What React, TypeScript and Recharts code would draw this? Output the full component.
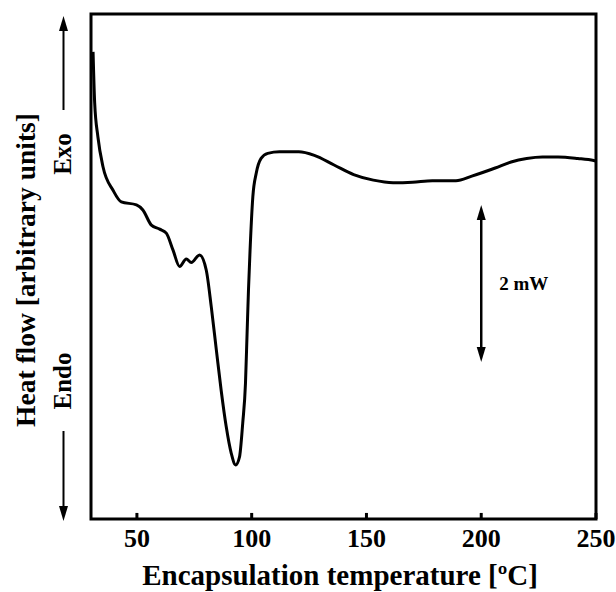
import React from 'react';
import { LineChart, Line, XAxis, YAxis, ReferenceArea, ReferenceLine } from 'recharts';

// temperature (°C) and heat flow (arbitrary units, 0..100 over the plot height)
const temps = [
  30.9, 31.6, 33.0, 35.2, 39.6, 43.2, 49.8, 52.6, 56.3, 59.9, 62.8, 65.7, 68.6, 71.5, 73.7, 77.3,
  80.2, 82.4, 84.6, 86.7, 88.9, 91.1, 93.0, 94.7, 96.1, 97.3, 98.0, 98.6, 99.3, 100.5, 102.0, 104.1,
  107.0, 112.1, 120.5, 127.3, 135.9, 144.4, 153.0, 161.6, 170.1, 178.7, 189.0, 195.9, 206.1, 213.0,
  219.8, 226.7, 233.5, 242.1, 249.0, 250,
];
const heatFlow = [
  92.5, 82.4, 75.7, 69.8, 65.1, 62.8, 62.2, 61.2, 58.2, 57.4, 56.6, 53.3, 50.0, 51.5, 50.8, 52.3,
  49.3, 42.0, 33.5, 25.5, 18.3, 13.0, 10.7, 12.3, 19.0, 26.9, 36.8, 45.3, 53.3, 63.8, 68.5, 71.4,
  72.4, 72.7, 72.7, 72.0, 70.1, 68.2, 67.1, 66.6, 66.7, 67.0, 67.0, 67.9, 69.5, 70.7,
  71.4, 71.7, 71.7, 71.4, 71.0, 70.9,
];
const xTicks = [50, 100, 150, 200, 250];
const scaleBar = { x: 200, from: 31.1, to: 62.2, label: '2 mW' };

const data = temps.map((t, i) => ({ t, q: heatFlow[i] }));
const font = '"Liberation Serif", "Times New Roman", serif';

const ScaleArrow = (p: any) => {
  const { x1, y1, y2 } = p;
  const top = Math.min(y1, y2);
  const bot = Math.max(y1, y2);
  return (
    <g>
      <line x1={x1} y1={top + 10} x2={x1} y2={bot - 10} stroke="#000" strokeWidth={2.5} />
      <polygon points={`${x1},${top} ${x1 - 4.5},${top + 15} ${x1 + 4.5},${top + 15}`} fill="#000" />
      <polygon points={`${x1},${bot} ${x1 - 4.5},${bot - 15} ${x1 + 4.5},${bot - 15}`} fill="#000" />
      <text x={x1 + 18} y={283} dy="0.35em" fontFamily={font} fontWeight="bold" fontSize={19}>
        {scaleBar.label}
      </text>
    </g>
  );
};

export default function App() {
  return (
    <div style={{ position: 'absolute', left: 0, top: 0, width: 616, height: 592, background: '#fff' }}>
      <LineChart width={616} height={592} data={data} margin={{ top: 14, right: 20, left: 91, bottom: 33 }}>
        <XAxis
          dataKey="t"
          type="number"
          domain={[30, 250]}
          ticks={xTicks}
          height={40}
          axisLine={false}
          tickLine={false}
          tickSize={0}
          tickMargin={10}
          tick={{ fill: '#000', fontSize: 26, fontWeight: 'bold', fontFamily: font }}
          allowDataOverflow
        />
        <YAxis type="number" domain={[0, 100]} hide />
        <ReferenceArea x1={30} x2={250} y1={0} y2={100} fill="none" stroke="#000" strokeWidth={3} ifOverflow="visible" />
        {xTicks.map((t) => (
          <ReferenceLine key={t} segment={[{ x: t, y: 0 }, { x: t, y: 1.2 }]} stroke="#000" strokeWidth={3} />
        ))}
        <ReferenceLine
          segment={[{ x: scaleBar.x, y: scaleBar.from }, { x: scaleBar.x, y: scaleBar.to }]}
          shape={ScaleArrow}
        />
        <Line type="monotone" dataKey="q" stroke="#000" strokeWidth={3} dot={false} isAnimationActive={false} />
      </LineChart>
      <svg width={616} height={592} style={{ position: 'absolute', left: 0, top: 0, pointerEvents: 'none' }}>
        <g fontFamily={font} fontWeight="bold" fill="#000">
          <text x={25} y={270} transform="rotate(-90 25 270)" textAnchor="middle" dy="0.35em" fontSize={27.5}>
            Heat flow [arbitrary units]
          </text>
          <text x={62} y={154} transform="rotate(-90 62 154)" textAnchor="middle" dy="0.35em" fontSize={25}>
            Exo
          </text>
          <text x={62} y={381} transform="rotate(-90 62 381)" textAnchor="middle" dy="0.35em" fontSize={25}>
            Endo
          </text>
          <text x={340} y={575} textAnchor="middle" dy="0.35em" fontSize={29}>
            Encapsulation temperature [ºC]
          </text>
        </g>
        <line x1={63.5} y1={26} x2={63.5} y2={110} stroke="#000" strokeWidth={2} />
        <polygon points="63.5,16 59,31 68,31" fill="#000" />
        <line x1={63.5} y1={431} x2={63.5} y2={510} stroke="#000" strokeWidth={2} />
        <polygon points="63.5,521 59,506 68,506" fill="#000" />
      </svg>
    </div>
  );
}
